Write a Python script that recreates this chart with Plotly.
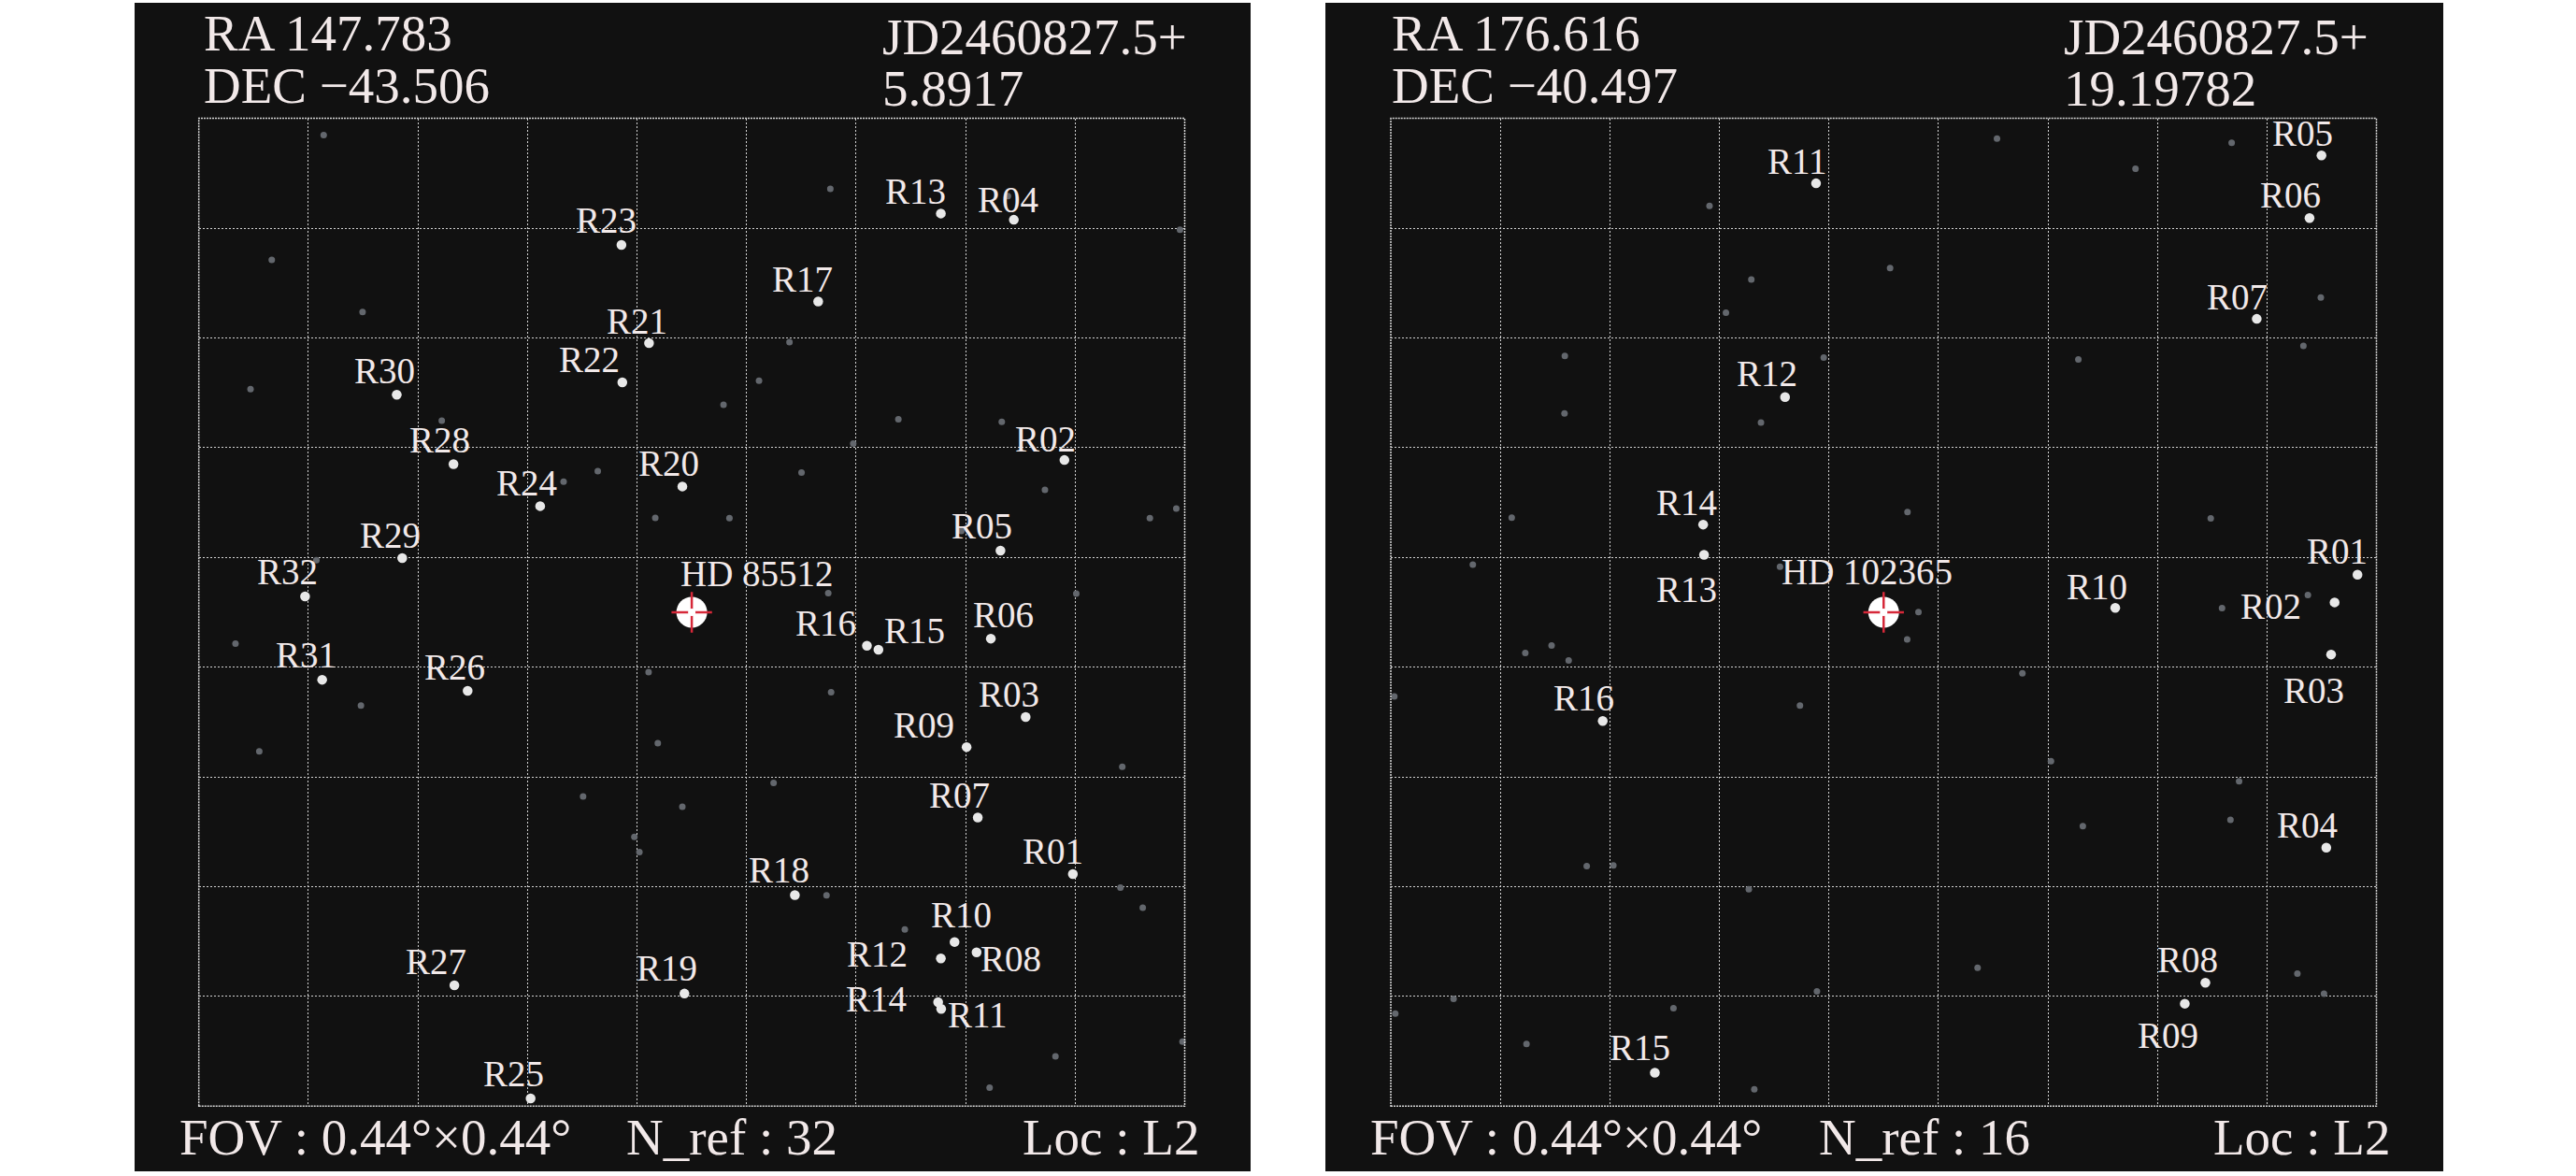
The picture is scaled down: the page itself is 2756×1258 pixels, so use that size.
import plotly.graph_objects as go

# ---------------- DATA (grid units: 0..9 across each field, y measured downward) ----------------
JD_BASE = "JD2460827.5+"
FOV_TEXT = "0.44°×0.44°"
LOC_TEXT = "L2"

# Left field
L_RA = "147.783"
L_DEC = "−43.506"
L_JD = "5.8917"
L_TARGET = "HD 85512"
L_TARGET_X = [4.5]
L_TARGET_Y = [4.5]
L_REF_NAMES = ["R01", "R02", "R03", "R04", "R05", "R06", "R07", "R08", "R09", "R10",
               "R11", "R12", "R13", "R14", "R15", "R16", "R17", "R18", "R19", "R20",
               "R21", "R22", "R23", "R24", "R25", "R26", "R27", "R28", "R29", "R30",
               "R31", "R32"]
L_REF_X = [7.979, 7.902, 7.548, 7.440, 7.318, 7.230, 7.111, 7.100, 7.009, 6.899,
           6.777, 6.774, 6.774, 6.749, 6.204, 6.099, 5.654, 5.441, 4.433, 4.414,
           4.110, 3.866, 3.858, 3.116, 3.029, 2.454, 2.333, 2.325, 1.857, 1.807,
           1.126, 0.970]
L_REF_Y = [6.885, 3.113, 5.454, 0.924, 3.938, 4.740, 6.370, 7.599, 5.728, 7.504,
           8.114, 7.654, 0.867, 8.052, 4.841, 4.805, 1.668, 7.077, 7.974, 3.354,
           2.048, 2.405, 1.153, 3.533, 8.929, 5.216, 7.899, 3.150, 4.007, 2.518,
           5.115, 4.355]
L_FIELD_X = [1.140, 0.666, 1.495, 0.472, 5.765, 5.392, 5.114, 4.790, 2.218, 3.642,
             3.330, 5.502, 4.167, 4.844, 7.386, 8.957, 6.386, 7.330, 5.974, 7.724,
             8.923, 8.682, 6.961, 1.073, 0.335, 1.480, 0.552, 5.746, 4.106, 5.772,
             4.190, 5.247, 3.508, 4.414, 3.976, 4.022, 5.730, 8.010, 8.430, 8.413,
             8.617, 6.445, 8.980, 7.820, 7.219]
L_FIELD_Y = [0.153, 1.289, 1.765, 2.467, 0.643, 2.040, 2.390, 2.609, 2.754, 3.215,
             3.310, 3.227, 3.640, 3.643, 0.708, 1.014, 2.742, 2.765, 2.963, 3.385,
             3.555, 3.643, 3.759, 4.026, 4.786, 5.350, 5.767, 4.326, 5.046, 5.229,
             5.692, 6.054, 6.178, 6.272, 6.546, 6.686, 7.080, 4.330, 5.907, 7.009,
             7.192, 7.390, 8.411, 8.545, 8.831]

# Right field
R_RA = "176.616"
R_DEC = "−40.497"
R_JD = "19.19782"
R_TARGET = "HD 102365"
R_TARGET_X = [4.5]
R_TARGET_Y = [4.5]
R_REF_NAMES = ["R01", "R02", "R03", "R04", "R05", "R06", "R07", "R08", "R09", "R10",
               "R11", "R12", "R13", "R14", "R15", "R16"]
R_REF_X = [8.827, 8.618, 8.586, 8.542, 8.498, 8.389, 7.907, 7.438, 7.250, 6.615,
           3.883, 3.600, 2.860, 2.852, 2.411, 1.935]
R_REF_Y = [4.158, 4.410, 4.885, 6.645, 0.337, 0.909, 1.827, 7.875, 8.066, 4.460,
           0.592, 2.540, 3.977, 3.701, 8.695, 5.490]
R_FIELD_X = [2.910, 3.292, 3.060, 1.589, 1.586, 3.953, 3.380, 1.104, 0.749, 3.554,
             5.535, 6.800, 7.678, 4.559, 8.492, 8.333, 6.278, 4.718, 7.487, 8.374,
             7.590, 4.818, 4.715, 5.767, 6.028, 7.746, 7.667, 6.319, 5.358, 8.278,
             8.521, 1.228, 1.468, 1.624, 0.032, 3.736, 1.789, 2.032, 3.269, 3.891,
             0.573, 0.041, 2.581, 1.239, 3.319]
R_FIELD_Y = [0.798, 1.469, 1.771, 2.164, 2.689, 2.179, 2.771, 3.639, 4.067, 4.085,
             0.185, 0.460, 0.223, 1.364, 1.633, 2.073, 2.196, 3.587, 3.645, 4.343,
             4.463, 4.498, 4.747, 5.056, 5.857, 6.040, 6.392, 6.448, 7.740, 7.793,
             7.975, 4.871, 4.803, 4.938, 5.267, 5.349, 6.812, 6.806, 7.023, 7.954,
             8.022, 8.157, 8.107, 8.433, 8.847]

# ---------------- LAYOUT / STYLE ----------------
W, H = 2756, 1258
BG = "#111111"
TXT = "#f2e9e9"
FONT = "Liberation Serif, Times New Roman, serif"
LABEL_SIZE = 39
HEAD_SIZE = 55
DEFAULT_LABEL_SHIFT = (-18, 25)   # px: label centre relative to star

# per-label placement tweaks (pixel shifts of the label centre from the star)
L_LABEL_SHIFT = {
    "R01": (-21, 24), "R02": (-20, 23), "R03": (-18, 24), "R04": (-6, 22),
    "R05": (-20, 26), "R06": (13, 26), "R07": (-20, 24), "R08": (37, -7),
    "R09": (-46, 24), "R10": (7, 29), "R11": (39, -6), "R12": (-68, 5),
    "R13": (-27, 24), "R14": (-66, 3), "R15": (39, 20), "R16": (-44, 24),
    "R17": (-17, 24), "R18": (-17, 27), "R19": (-19, 27), "R20": (-15, 25),
    "R21": (-13, 24), "R22": (-35, 24), "R23": (-16, 26), "R24": (-14, 25),
    "R25": (-18, 26), "R26": (-14, 26), "R27": (-20, 26), "R28": (-15, 26),
    "R29": (-13, 25), "R30": (-13, 26), "R31": (-17, 27), "R32": (-19, 26),
}
R_LABEL_SHIFT = {
    "R01": (-22, 25), "R02": (-68, -4), "R03": (-18, -38), "R04": (-20, 24),
    "R05": (-20, 24), "R06": (-20, 25), "R07": (-21, 24), "R08": (-19, 25),
    "R09": (-18, -34), "R10": (-20, 23), "R11": (-20, 24), "R12": (-19, 25),
    "R13": (-19, -37), "R14": (-18, 24), "R15": (-16, 27), "R16": (-20, 25),
}
L_TARGET_SHIFT = (70, 41)
R_TARGET_SHIFT = (-18, 43)

panels = [
    dict(xa="x", ya="y", bg=(144, 3, 1338, 1253), plot=(212.7, 126.6, 1267.5, 1183.3),
         ra=L_RA, dec=L_DEC, jd=L_JD, nref=len(L_REF_NAMES),
         names=L_REF_NAMES, rx=L_REF_X, ry=L_REF_Y, fx=L_FIELD_X, fy=L_FIELD_Y,
         tname=L_TARGET, tx=L_TARGET_X, ty=L_TARGET_Y, shifts=L_LABEL_SHIFT, tshift=L_TARGET_SHIFT,
         txt_x=dict(ra=216, jd=942, fov=190, nref=668, loc=1092)),
    dict(xa="x2", ya="y2", bg=(1418, 3, 2614, 1253), plot=(1488, 126.6, 2542.5, 1183.3),
         ra=R_RA, dec=R_DEC, jd=R_JD, nref=len(R_REF_NAMES),
         names=R_REF_NAMES, rx=R_REF_X, ry=R_REF_Y, fx=R_FIELD_X, fy=R_FIELD_Y,
         tname=R_TARGET, tx=R_TARGET_X, ty=R_TARGET_Y, shifts=R_LABEL_SHIFT, tshift=R_TARGET_SHIFT,
         txt_x=dict(ra=1487, jd=2206, fov=1464, nref=1944, loc=2366)),
]

fig = go.Figure()
shapes, annotations = [], []
layout_axes = {}

def px_x(v):
    return v / W

def px_y(v):
    return 1 - v / H

for i, p in enumerate(panels):
    xa, ya = p["xa"], p["ya"]
    x0, y0, x1, y1 = p["plot"]
    sfx = "" if i == 0 else str(i + 1)
    axis_common = dict(range=[0, 9], tick0=0, dtick=1, showticklabels=False, ticks="",
                       showgrid=True, gridcolor="#d2d2d2", gridwidth=1, griddash="2px,2px",
                       zeroline=False, showline=False, fixedrange=True)
    layout_axes["xaxis" + sfx] = dict(axis_common, domain=[px_x(x0), px_x(x1)], anchor=ya)
    yax = dict(axis_common, domain=[px_y(y1), px_y(y0)], anchor=xa)
    yax["range"] = [9, 0]
    layout_axes["yaxis" + sfx] = yax

    # dark panel
    bx0, by0, bx1, by1 = p["bg"]
    shapes.append(dict(type="rect", xref="paper", yref="paper", x0=px_x(bx0), x1=px_x(bx1),
                       y0=px_y(by1), y1=px_y(by0), fillcolor=BG, line=dict(width=0), layer="below"))
    # dotted frame
    shapes.append(dict(type="rect", xref=xa + " domain", yref=ya + " domain", x0=0, x1=1, y0=0, y1=1,
                       line=dict(color="#d6d6d6", width=1.5, dash="2px,1px"), layer="above"))

    # field stars
    fig.add_trace(go.Scatter(x=p["fx"], y=p["fy"], mode="markers", xaxis=xa, yaxis=ya,
                             marker=dict(size=7, color="#63676d", line=dict(width=0)),
                             cliponaxis=False, hoverinfo="skip"))
    # reference stars
    fig.add_trace(go.Scatter(x=p["rx"], y=p["ry"], mode="markers", xaxis=xa, yaxis=ya,
                             marker=dict(size=10.5, color="#e8e8e8", line=dict(width=0)),
                             cliponaxis=False, hoverinfo="skip"))
    # target
    fig.add_trace(go.Scatter(x=p["tx"], y=p["ty"], mode="markers", xaxis=xa, yaxis=ya,
                             marker=dict(size=33, color="#ffffff", line=dict(width=0)),
                             cliponaxis=False, hoverinfo="skip"))
    fig.add_trace(go.Scatter(x=p["tx"], y=p["ty"], mode="markers", xaxis=xa, yaxis=ya,
                             marker=dict(size=31, symbol="cross-thin", color="#d62839",
                                         line=dict(width=2.5, color="#d62839")),
                             cliponaxis=False, hoverinfo="skip"))
    fig.add_trace(go.Scatter(x=p["tx"], y=p["ty"], mode="markers", xaxis=xa, yaxis=ya,
                             marker=dict(size=8, color="#ffffff", line=dict(width=0)),
                             cliponaxis=False, hoverinfo="skip"))

    # reference labels
    for name, x, y in zip(p["names"], p["rx"], p["ry"]):
        dx, dy = p["shifts"].get(name, DEFAULT_LABEL_SHIFT)
        annotations.append(dict(x=x, y=y, xref=xa, yref=ya, text=name, showarrow=False,
                                xanchor="center", yanchor="middle", xshift=dx, yshift=dy,
                                font=dict(family=FONT, size=LABEL_SIZE, color=TXT)))
    dx, dy = p["tshift"]
    annotations.append(dict(x=p["tx"][0], y=p["ty"][0], xref=xa, yref=ya, text=p["tname"],
                            showarrow=False, xanchor="center", yanchor="middle",
                            xshift=dx, yshift=dy,
                            font=dict(family=FONT, size=LABEL_SIZE, color=TXT)))

    # header / footer text
    tx = p["txt_x"]
    def head(text, x, y):
        annotations.append(dict(x=px_x(x), y=px_y(y), xref="paper", yref="paper", text=text,
                                showarrow=False, xanchor="left", yanchor="middle",
                                font=dict(family=FONT, size=HEAD_SIZE, color=TXT)))
    head("RA " + p["ra"], tx["ra"], 35)
    head("DEC " + p["dec"], tx["ra"], 91.5)
    head(JD_BASE, tx["jd"], 39)
    head(p["jd"], tx["jd"], 95)
    head("FOV : " + FOV_TEXT, tx["fov"], 1216)
    head("N_ref : " + str(p["nref"]), tx["nref"], 1216)
    head("Loc : " + LOC_TEXT, tx["loc"], 1216)

fig.update_layout(width=W, height=H, margin=dict(l=0, r=0, t=0, b=0),
                  paper_bgcolor="#ffffff", plot_bgcolor=BG, showlegend=False,
                  shapes=shapes, annotations=annotations, **layout_axes)

fig.write_html("out.html", config={"displayModeBar": False, "staticPlot": True},
               post_script="document.body.style.margin='0';document.body.style.overflow='hidden';")
